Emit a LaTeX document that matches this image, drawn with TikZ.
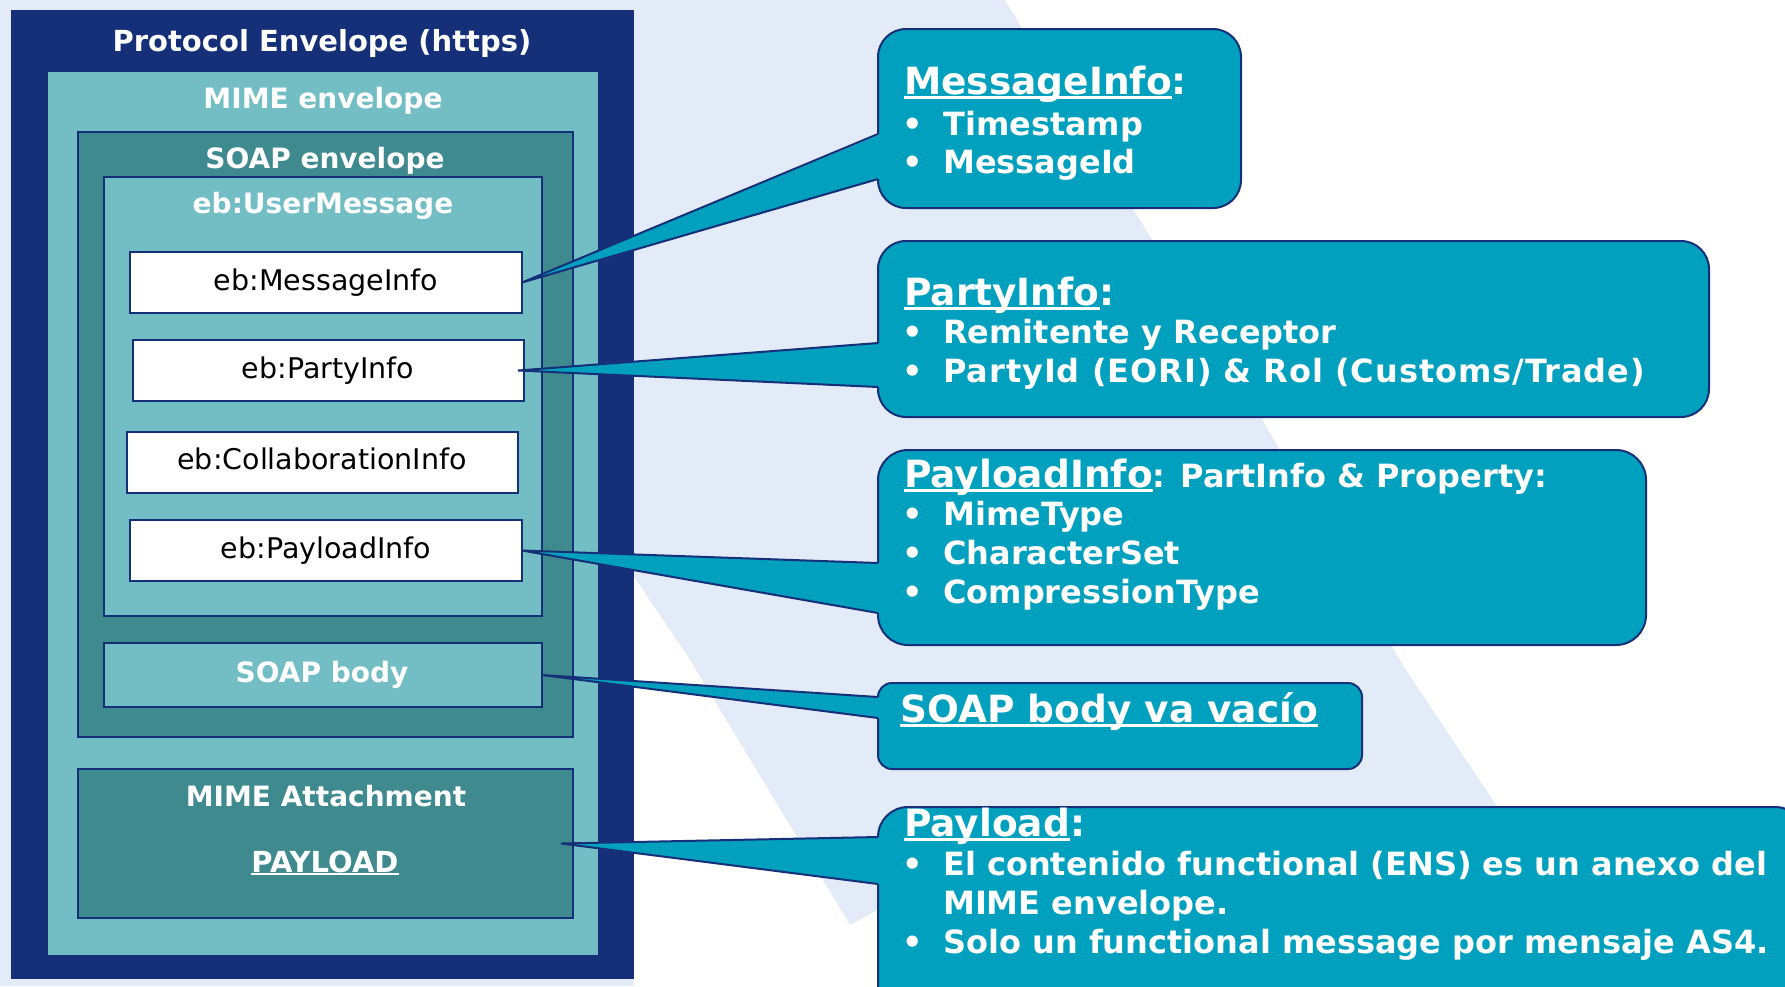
\documentclass[tikz,border=0pt]{standalone}
\usepackage{fontspec}
\setmainfont{DejaVu Sans}
\usetikzlibrary{calc}
\definecolor{navy}{RGB}{21,48,120}
\definecolor{lteal}{RGB}{115,190,196}
\definecolor{dteal}{RGB}{62,138,143}
\definecolor{cfillc}{RGB}{0,160,190}
\definecolor{bgblue}{RGB}{226,235,247}
\newcommand\ulx[1]{\setbox0=\hbox{#1}\rlap{\rule[-0.12em]{\wd0}{0.08em}}\box0}
\newcommand\bul{\makebox[41pt][l]{\textbullet}}
\newcommand\callout[9]{%
  \coordinate (#1) at (#2,#3);
  \fill[cfillc, rounded corners=#6] (#2,#3) rectangle (#4,#5);
  \fill[cfillc] (#2+3,#7) -- #9 -- (#2+3,#8) -- cycle;
  \draw[cline, rounded corners=#6] (#2,#7) -- (#2,#3) -- (#4,#3) -- (#4,#5) -- (#2,#5) -- (#2,#8);
  \draw[cline, line join=miter] (#2,#7) -- #9 -- (#2,#8);
}
\tikzset{
  boxn/.style={anchor=north west, inner sep=0, outer sep=0},
  navyedge/.style={draw=navy, line width=2pt},
  cline/.style={draw=navy, line width=2pt},
  wlbl/.style={text=white, font=\bfseries\fontsize{28}{32}\selectfont, inner sep=0, anchor=base},
  blbl/.style={text=black, font=\fontsize{28.5}{32}\selectfont, inner sep=0, anchor=base},
  chead/.style={text=white, font=\bfseries\fontsize{37.5}{42}\selectfont, inner sep=0, anchor=base west},
  citem/.style={text=white, font=\bfseries\fontsize{32}{36}\selectfont, inner sep=0, anchor=base west},
}
\begin{document}
\begin{tikzpicture}[x=1pt,y=-1pt]
\useasboundingbox (0,0) rectangle (1785,986);
\clip (0,0) rectangle (1785,986);
% background
\fill[bgblue] (0,0) rectangle (1785,986);
\fill[white] (1005,0) -- (1785,0) -- (1785,806) -- (1497,806) -- (1404,667) -- (1261,417) -- cycle;
\fill[white] (634,577) -- (690,660) -- (850,925) -- (878,910) -- (878,986) -- (634,986) -- cycle;

% main nested boxes
\node[boxn, fill=navy, minimum width=623pt, minimum height=969pt] (pe) at (11,10) {};
\node[boxn, fill=lteal, minimum width=550pt, minimum height=883pt] (mime) at (48,72) {};
\node[boxn, fill=dteal, navyedge, minimum width=495pt, minimum height=605pt] (soap) at (78,132) {};
\node[boxn, fill=lteal, navyedge, minimum width=438pt, minimum height=439pt] (um) at (104,177) {};
\node[boxn, fill=white, navyedge, minimum width=392pt, minimum height=61pt] (mi) at (130,252) {};
\node[boxn, fill=white, navyedge, minimum width=391pt, minimum height=61pt] (pi) at (133,340) {};
\node[boxn, fill=white, navyedge, minimum width=391pt, minimum height=61pt] (ci) at (127,432) {};
\node[boxn, fill=white, navyedge, minimum width=392pt, minimum height=61pt] (pl) at (130,520) {};
\node[boxn, fill=lteal, navyedge, minimum width=438pt, minimum height=64pt] (sb) at (104,643) {};
\node[boxn, fill=dteal, navyedge, minimum width=495pt, minimum height=149pt] (ma) at (78,769) {};

% left labels
\node[wlbl, font=\bfseries\fontsize{29}{34}\selectfont] (tpe) at (322,51) {Protocol Envelope (https)};
\node[wlbl] (tmime) at (323,108) {MIME envelope};
\node[wlbl] (tsoap) at (325,168) {SOAP envelope};
\node[wlbl] (tum) at (323,213) {eb:UserMessage};
\node[blbl] (tmi) at (326,290) {eb:MessageInfo};
\node[blbl] (tpi) at (328,378) {eb:PartyInfo};
\node[blbl] (tci) at (322,469) {eb:CollaborationInfo};
\node[blbl] (tpl) at (326,558) {eb:PayloadInfo};
\node[wlbl] (tsb) at (322,682) {SOAP body};
\node[wlbl] (tma) at (326,806) {MIME Attachment};
\node[wlbl, font=\bfseries\fontsize{29}{34}\selectfont] (tpay) at (325,872) {\ulx{PAYLOAD}};

% callouts
\callout{c1}{878}{29}{1241}{208}{28pt}{134}{179}{(mi.east)}
\callout{c2}{878}{241}{1709}{417}{28pt}{343}{387}{([xshift=-6pt]pi.east)}
\callout{c3}{878}{450}{1646}{645}{30pt}{563}{613}{(pl.east)}
\callout{c4}{878}{683}{1362}{769}{14pt}{697}{718}{(sb.east)}
\callout{c5}{878}{807}{1805}{1030}{30pt}{837}{884}{([xshift=-12pt]ma.east)}

% callout texts
\node[chead] (h1) at (904,94) {\ulx{MessageInfo}:};
\node[citem] (i11) at (902,135) {\bul Timestamp};
\node[citem] (i12) at (902,173) {\bul MessageId};

\node[chead] (h2) at (904,305) {\ulx{PartyInfo}:};
\node[citem] (i21) at (902,343) {\bul Remitente y Receptor};
\node[citem] (i22) at (902,382) {\bul {\addfontfeatures{LetterSpace=3}PartyId (EORI) \& Rol (Customs/Trade)}};

\node[chead] (h3) at (904,487) {\ulx{PayloadInfo}{\fontsize{32}{36}\selectfont: PartInfo \& Property:}};
\node[citem] (i31) at (902,525) {\bul MimeType};
\node[citem] (i32) at (902,564) {\bul CharacterSet};
\node[citem] (i33) at (902,603) {\bul CompressionType};

\node[chead] (h4) at (900,722) {\ulx{SOAP body va vacío}};

\node[chead] (h5) at (904,836) {\ulx{Payload}:};
\node[citem] (i51) at (902,875) {\bul El contenido functional (ENS) es un anexo del};
\node[citem] (i52) at (943,914) {MIME envelope.};
\node[citem] (i53) at (902,953) {\bul Solo un functional message por mensaje AS4.};
\end{tikzpicture}
\end{document}
